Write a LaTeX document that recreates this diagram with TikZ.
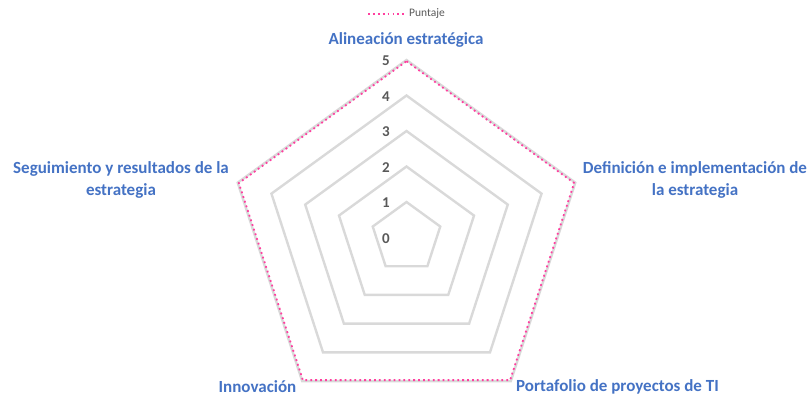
\documentclass[tikz,border=0pt]{standalone}
\usepackage{fontspec}
\setmainfont{Carlito}
\usetikzlibrary{calc}
\definecolor{axisblue}{HTML}{4472C4}
\definecolor{gridgray}{HTML}{D9D9D9}
\definecolor{ticktext}{HTML}{595959}
\definecolor{datapink}{HTML}{FF3F9F}
\tikzset{
  gridline/.style={draw=gridgray, line width=2.4pt, line join=miter},
  dataline/.style={draw=datapink, line width=1.8pt, dash pattern=on 1.8pt off 3.1pt},
  axislabel/.style={text=axisblue, font=\fontsize{17}{22}\selectfont\bfseries, align=center, inner sep=0pt},
  ticklabel/.style={text=ticktext, font=\fontsize{15}{17}\selectfont\bfseries, inner sep=0pt},
  legendtext/.style={text=ticktext, font=\fontsize{11.5}{13}\selectfont, inner sep=0pt, anchor=west},
}
\begin{document}
\begin{tikzpicture}[x=1pt,y=1pt]
\useasboundingbox (0,0) rectangle (812,-400);
\coordinate (c) at (406.5,-237.5);
% grid pentagons (levels 1..5)
\foreach \k in {1,...,5}{
  \draw[gridline] ($(c)+(90:{35.5*\k})$) -- ($(c)+(18:{35.5*\k})$) -- ($(c)+(-54:{35.5*\k})$)
     -- ($(c)+(-126:{35.5*\k})$) -- ($(c)+(162:{35.5*\k})$) -- cycle;
}
% data series (all at 5)
\coordinate (d1) at ($(c)+(90:176.3)$);
\coordinate (d2) at ($(c)+(18:176.3)$);
\coordinate (d3) at ($(c)+(-54:176.3)$);
\coordinate (d4) at ($(c)+(-126:176.3)$);
\coordinate (d5) at ($(c)+(162:176.3)$);
\draw[dataline] (d1) -- (d2) -- (d3) -- (d4) -- (d5) -- cycle;
% tick labels
\foreach \k in {0,...,5}{
  \node[ticklabel] (t\k) at (386,{-238.5+35.5*\k}) {\k};
}
% axis labels
\node[axislabel] (a1) at (406,-40) {Alineación estratégica};
\node[axislabel] (a2) at (695,-180) {Definición e implementación de\\la estrategia};
\node[axislabel] (a3) at (121,-180) {Seguimiento y resultados de la\\estrategia};
\node[axislabel] (a4) at (257.5,-387) {Innovación};
\node[axislabel] (a5) at (617.5,-387) {Portafolio de proyectos de TI};
% legend
\coordinate (l1) at (368,-14);
\coordinate (l2) at (404,-14);
\draw[dataline] (l1) -- (l2);
\node[legendtext] (leg) at (409,-14) {Puntaje};
\end{tikzpicture}
\end{document}
